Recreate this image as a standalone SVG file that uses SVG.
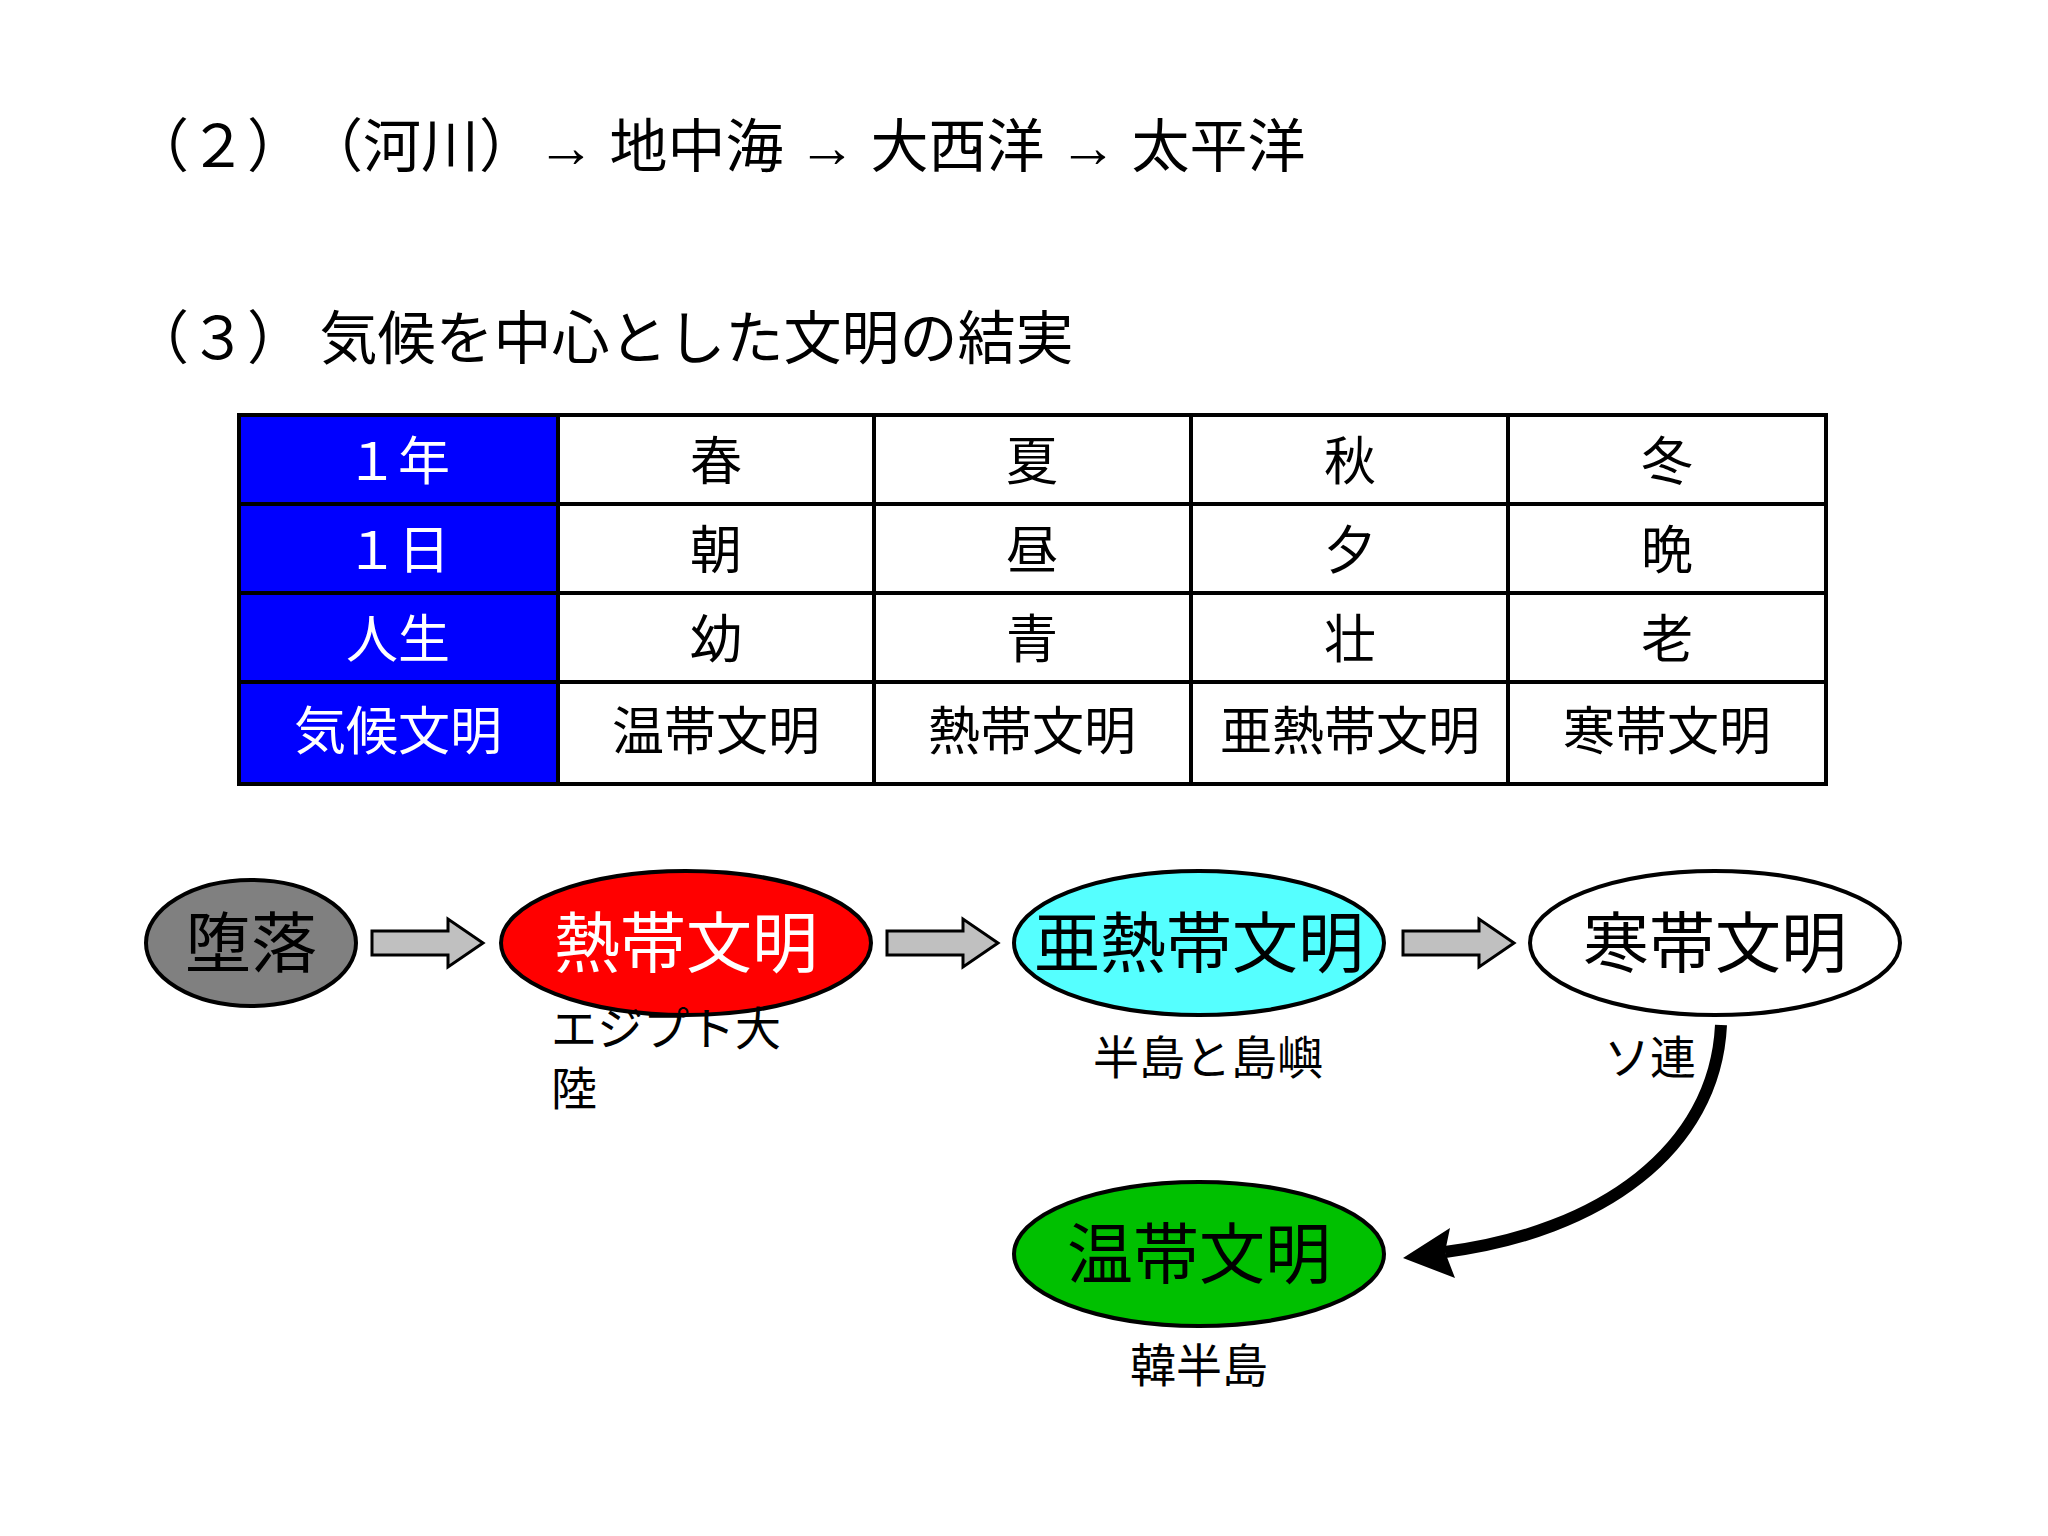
<svg xmlns="http://www.w3.org/2000/svg" width="2048" height="1536" viewBox="0 0 2048 1536">
<style>
text{font-family:"Liberation Serif","Noto Sans CJK JP",serif;fill:#000}
.h{font-size:58px}
.t{font-size:52px;text-anchor:middle}
.w{fill:#fff}
.e{font-size:66px;text-anchor:middle}
.l{font-size:46px}
.blk{fill:#c0c0c0;stroke:#000;stroke-width:3}
</style>
<rect width="2048" height="1536" fill="#fff"/>
<text class="h" x="131" y="167">（２）　（河川）→ 地中海 → 大西洋 → 太平洋</text>
<text class="h" x="131" y="359">（３） 気候を中心とした文明の結実</text>
<g id="table">
<rect x="239" y="415" width="319" height="369" fill="#0000ff"/>
<g fill="none" stroke="#000" stroke-width="4">
<rect x="239" y="415" width="1587" height="369"/>
<path d="M558 415V784M874 415V784M1191 415V784M1508 415V784M239 504H1826M239 593H1826M239 682H1826"/>
</g>
<g class="t">
<text class="t w" x="398" y="480">１年</text><text class="t" x="716" y="480">春</text><text class="t" x="1032" y="480">夏</text><text class="t" x="1350" y="480">秋</text><text class="t" x="1667" y="480">冬</text>
<text class="t w" x="398" y="569">１日</text><text class="t" x="716" y="569">朝</text><text class="t" x="1032" y="569">昼</text><text class="t" x="1350" y="569">夕</text><text class="t" x="1667" y="569">晩</text>
<text class="t w" x="398" y="658">人生</text><text class="t" x="716" y="658">幼</text><text class="t" x="1032" y="658">青</text><text class="t" x="1350" y="658">壮</text><text class="t" x="1667" y="658">老</text>
<text class="t w" x="398" y="750">気候文明</text><text class="t" x="716" y="750">温帯文明</text><text class="t" x="1032" y="750">熱帯文明</text><text class="t" x="1350" y="750">亜熱帯文明</text><text class="t" x="1667" y="750">寒帯文明</text>
</g>
</g>
<g id="n1"><ellipse cx="251" cy="943" rx="105" ry="63" fill="#808080" stroke="#000" stroke-width="4"/><text class="e" x="251" y="967">堕落</text></g>
<g id="n2"><ellipse cx="686" cy="943" rx="185" ry="72" fill="#ff0000" stroke="#000" stroke-width="4"/><text class="e w" x="686" y="967">熱帯文明</text><text class="l" x="551" y="1045">エジプト大</text><text class="l" x="551" y="1105">陸</text></g>
<g id="n3"><ellipse cx="1199" cy="943" rx="185" ry="72" fill="#55ffff" stroke="#000" stroke-width="4"/><text class="e" x="1199" y="967">亜熱帯文明</text><text class="l" x="1208" y="1074" text-anchor="middle">半島と島嶼</text></g>
<g id="n4"><ellipse cx="1715" cy="943" rx="185" ry="72" fill="#fff" stroke="#000" stroke-width="4"/><text class="e" x="1715" y="967">寒帯文明</text><text class="l" x="1604" y="1074">ソ連</text></g>
<g id="n5"><ellipse cx="1199" cy="1254" rx="185" ry="72" fill="#00c000" stroke="#000" stroke-width="4"/><text class="e" x="1199" y="1278">温帯文明</text><text class="l" x="1199" y="1382" text-anchor="middle">韓半島</text></g>
<g id="connectors">
<path class="blk" d="M372 931H448V919L483 943L448 967V955H372Z"/>
<path class="blk" d="M887 931H963V919L998 943L963 967V955H887Z"/>
<path class="blk" d="M1403 931H1479V919L1514 943L1479 967V955H1403Z"/>
<path d="M1721 1025C1715 1150 1600 1232 1445 1252" fill="none" stroke="#000" stroke-width="12"/>
<path d="M1403 1258L1450 1228L1445 1252L1455 1278Z" fill="#000"/>
</g>
</svg>
